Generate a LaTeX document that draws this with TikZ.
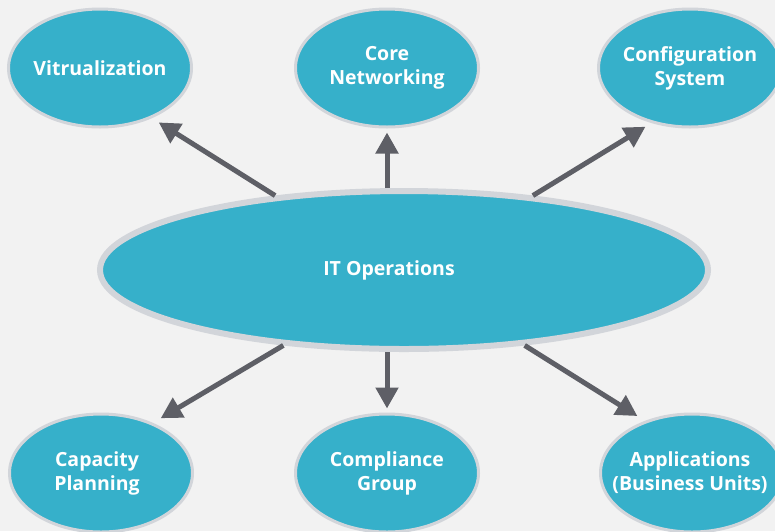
\documentclass[tikz,border=0pt]{standalone}
\usepackage{fontspec}
\setmainfont{Open Sans}
\usetikzlibrary{shapes.geometric,arrows.meta}
\definecolor{bg}{HTML}{F2F2F2}
\definecolor{teal}{HTML}{36B0CA}
\definecolor{rim}{HTML}{D2D5DA}
\definecolor{arrowgray}{HTML}{5E5F66}
\begin{document}
\begin{tikzpicture}[x=1pt,y=-1pt,
  caption/.style={text=white, align=center, inner sep=0pt,
    font=\bfseries\fontsize{19.5}{24}\selectfont},
  bubble/.style={ellipse, fill=teal, draw=rim, line width=3pt, inner sep=0pt,
    minimum width=183pt, minimum height=118pt},
  hub/.style={bubble, line width=6pt, minimum width=608pt, minimum height=158pt},
  link/.style={draw=arrowgray, line width=5pt,
    -{Triangle[length=21pt,width=22pt]}}]
  % canvas
  \fill[bg] (0,0) rectangle (775,531);
  \useasboundingbox (0,0) rectangle (775,531);

  % central node
  \node[hub] (it) at (404,270) {};
  \node[caption] (itT) at (389,270) {IT Operations};

  % outer nodes
  \node[bubble] (vir)  at (100,68)  {};
  \node[bubble] (net)  at (387,68)  {};
  \node[bubble] (cfg)  at (690,68)  {};
  \node[bubble] (cap)  at (101,473) {};
  \node[bubble] (cmp)  at (387,473) {};
  \node[bubble] (app)  at (692,473) {};

  % captions
  \node[caption] (virT) at (vir) {Vitrualization};
  \node[caption] (netT) at (net) {Core\\Networking};
  \node[caption] (cfgT) at (cfg) {Configuration\\System};
  \node[caption] (capT) at ([xshift=-4pt]cap.center) {Capacity\\Planning};
  \node[caption] (cmpT) at (cmp) {Compliance\\Group};
  \node[caption] (appT) at ([xshift=-2pt]app.center) {Applications\\(Business Units)};

  % connectors
  \draw[link, shorten >=8pt] (it.150)   -- (vir.-44);
  \draw[link, shorten >=4pt] (it.north -| net.south) -- (net.south);
  \draw[link, shorten >=7pt] (it.30)    -- (cfg.235);
  \draw[link, shorten >=9pt] (it.212)   -- (cap.44);
  \draw[link, shorten >=4pt] (it.south -| cmp.north) -- (cmp.north);
  \draw[link, shorten >=9pt] (it.-32)   -- (app.132);
\end{tikzpicture}
\end{document}
